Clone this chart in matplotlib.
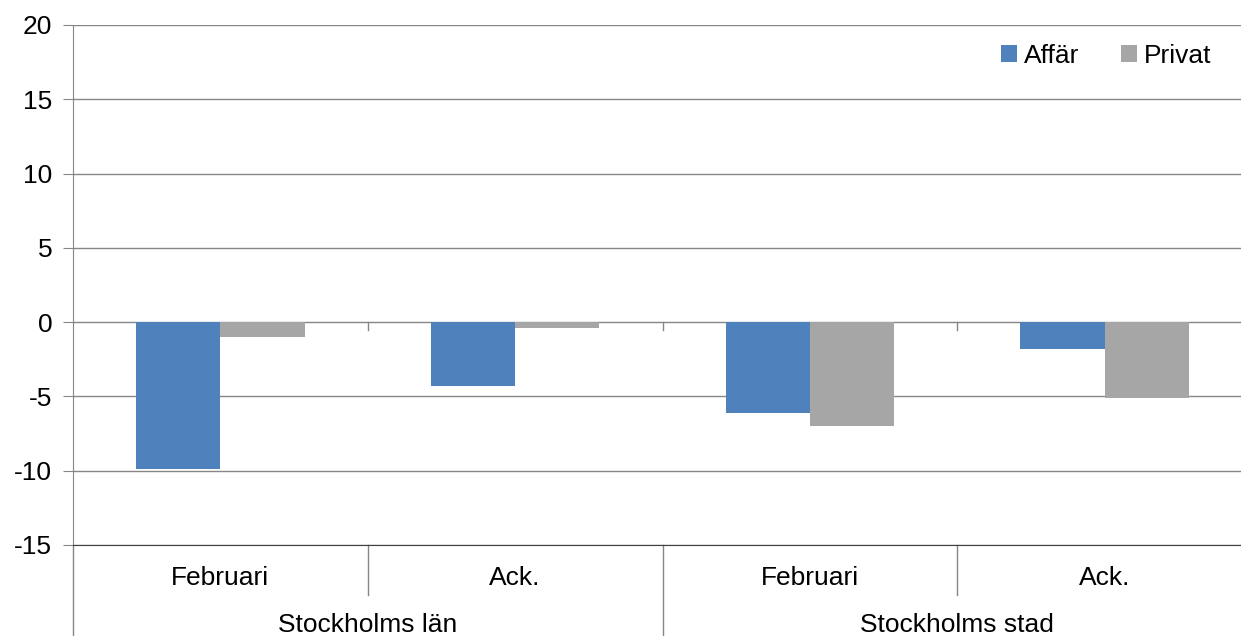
import numpy as np
import matplotlib.pyplot as plt

plt.rcParams['font.family'] = ['Liberation Sans', 'DejaVu Sans']
plt.rcParams['axes.unicode_minus'] = False

# data
groups = ['Stockholms län', 'Stockholms stad']
periods = ['Februari', 'Ack.', 'Februari', 'Ack.']
affar = [-9.9, -4.3, -6.1, -1.8]
privat = [-1.0, -0.4, -7.0, -5.1]
series_names = ['Affär', 'Privat']
colors = ['#4F81BD', '#A6A6A6']

fig = plt.figure(figsize=(12.41, 6.36), dpi=100)
# la zone de tracé dépasse un peu à droite (image rognée)
ax = fig.add_axes([73 / 1241, 1 - 545 / 636, (1252 - 73) / 1241, 520 / 636])

ind = np.arange(len(periods))
w = 1 / 3.5
ax.bar(ind - w / 2, affar, w, color=colors[0], label=series_names[0], zorder=3)
ax.bar(ind + w / 2, privat, w, color=colors[1], label=series_names[1], zorder=3)

ax.set_xlim(-0.5, len(periods) - 0.5)
ax.set_ylim(-15, 20)
ax.set_yticks(np.arange(-15, 21, 5))
ax.yaxis.grid(True, color='#868686', linewidth=1, zorder=0)
ax.tick_params(axis='y', labelsize=19, length=7, color='#868686', pad=8)
ax.set_xticks([])

for s in ['top', 'right']:
    ax.spines[s].set_visible(False)
ax.spines['left'].set_color('#868686')
ax.spines['bottom'].set_color('#404040')

# petits traits sur la ligne zéro entre catégories
for b in [0.5, 1.5, 2.5]:
    ax.plot([b, b], [0, -0.55], color='#868686', linewidth=1, zorder=2)

# étiquettes à deux niveaux
trans = ax.get_xaxis_transform()
for i, p in enumerate(periods):
    ax.text(ind[i], -0.064, p, transform=trans, ha='center', va='center', fontsize=19)
for j, g in enumerate(groups):
    ax.text(2 * j + 0.5, -0.154, g, transform=trans, ha='center', va='center', fontsize=19)

for b in [0.5, 2.5]:
    ax.plot([b, b], [0, -0.096], transform=trans, color='#868686', linewidth=1, clip_on=False)
for b in [-0.5, 1.5, 3.5]:
    ax.plot([b, b], [0, -0.2], transform=trans, color='#868686', linewidth=1, clip_on=False)

fig.legend(*ax.get_legend_handles_labels(), loc='upper right', ncol=2, frameon=False,
           fontsize=19, handlelength=0.6, handleheight=0.6, handletextpad=0.25,
           columnspacing=1.6, bbox_to_anchor=(1235 / 1241, 1 - 20 / 636))

fig.savefig('out.png', dpi=100)
